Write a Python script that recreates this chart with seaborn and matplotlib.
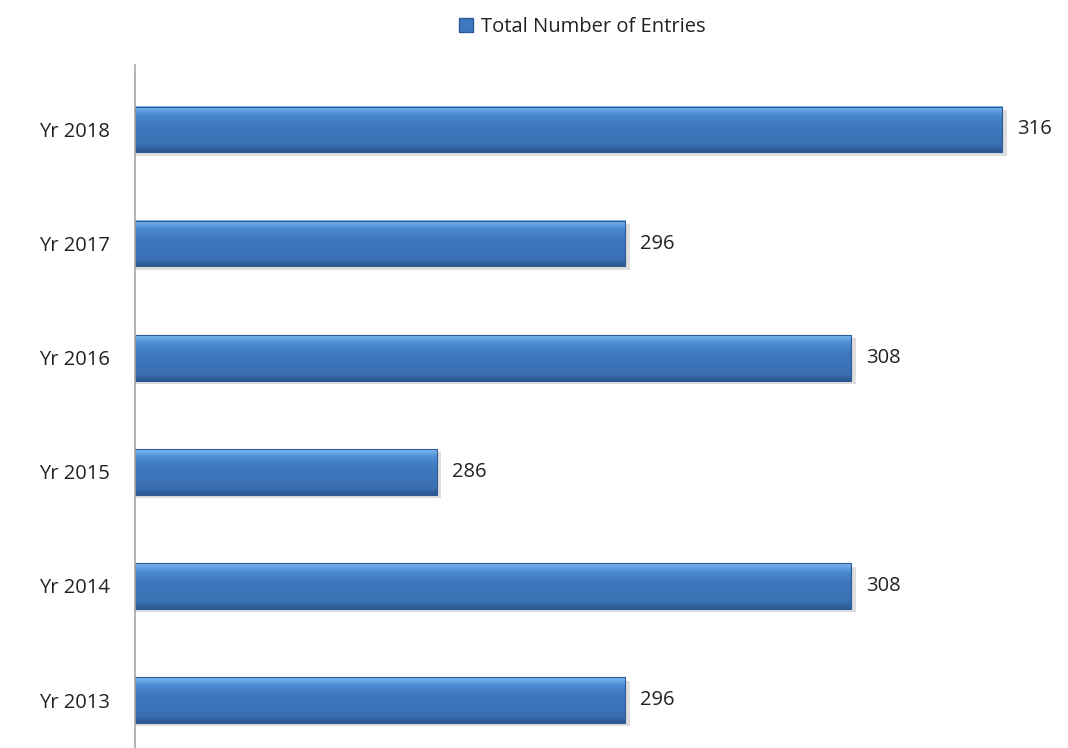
import numpy as np
import pandas as pd
import seaborn as sns
import matplotlib.pyplot as plt
from matplotlib.colors import LinearSegmentedColormap
from matplotlib.patches import Patch

# dados
years = ['Yr 2018', 'Yr 2017', 'Yr 2016', 'Yr 2015', 'Yr 2014', 'Yr 2013']
entries = [316, 296, 308, 286, 308, 296]
series_name = 'Total Number of Entries'

df = pd.DataFrame({'year': years, 'entries': entries})

sns.set_theme(style='white')
plt.rcParams['font.family'] = ['Open Sans', 'DejaVu Sans']

XMIN, XMAX = 270, 319.07

fig = plt.figure(figsize=(10.68, 7.48), dpi=100)
ax = fig.add_axes([135 / 1068, 0, (1060 - 135) / 1068, 1 - 65 / 748])

sns.barplot(data=df, x='entries', y='year', orient='h', color='#4A84CC',
            width=0.40, linewidth=0, ax=ax)

# gradiente estilo 3D
grad = LinearSegmentedColormap.from_list(
    'bar', [(0, '#2B5791'), (0.15, '#3A70B3'), (0.6, '#3F78BF'),
            (0.82, '#4C8AD2'), (1, '#7DB9F2')])
g = np.linspace(0, 1, 64).reshape(-1, 1)
for p in list(ax.patches):
    x0, y0 = p.get_x(), p.get_y()
    w, h = p.get_width(), p.get_height()
    x1 = x0 + w
    x0 = max(x0, XMIN)
    p.set_visible(False)
    shadow = plt.Rectangle((x0, y0 + 0.03), x1 - x0 + 0.25, h, color='#C8C8C8',
                           alpha=0.6, zorder=1, lw=0)
    ax.add_patch(shadow)
    ax.imshow(g, cmap=grad, aspect='auto', origin='lower',
              extent=(x0, x1, y0 + h, y0), zorder=2)
    ax.add_patch(plt.Rectangle((x0, y0), x1 - x0, h, fill=False, edgecolor='#2D5B94',
                               lw=0.8, zorder=3))

for i, v in enumerate(entries):
    ax.text(v + 0.8, i, str(v), va='center', ha='left', fontsize=14.5, color='#222222')

ax.set_xlim(XMIN, XMAX)
ax.set_ylim(5.42, -0.565)
ax.set_xlabel('')
ax.set_ylabel('')
ax.set_xticks([])
ax.tick_params(axis='y', length=0, pad=18, labelsize=14.5, labelcolor='#222222')
for s in ['top', 'right', 'bottom']:
    ax.spines[s].set_visible(False)
ax.spines['left'].set_color('#A6A6A6')
ax.spines['left'].set_linewidth(1.2)
ax.spines['left'].set_zorder(4)

fig.legend(handles=[Patch(facecolor='#3E78C0', edgecolor='#2D5B94', label=series_name)],
           loc='center', bbox_to_anchor=(582 / 1068, 1 - 27 / 748), frameon=False,
           fontsize=14.5, handlelength=0.7, handleheight=0.7, handletextpad=0.4,
           labelcolor='#222222')

fig.savefig('out.png', dpi=100)
